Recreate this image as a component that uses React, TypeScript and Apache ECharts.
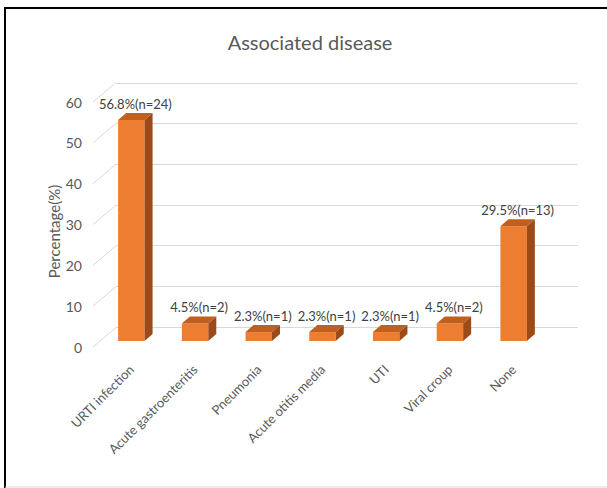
import React, { useEffect, useRef } from "react";
import * as echarts from "echarts";

const categories = [
  "URTI infection",
  "Acute gastroenteritis",
  "Pneumonia",
  "Acute otitis media",
  "UTI",
  "Viral croup",
  "None",
];
const percentages = [56.8, 4.5, 2.3, 2.3, 2.3, 4.5, 29.5];
const counts = [24, 2, 1, 1, 1, 2, 13];
const yTicks = [0, 10, 20, 30, 40, 50, 60];

const FONT = "Lato, 'Open Sans', sans-serif";
const FRONT = "#ED7D31";
const TOP = "#C0601F";
const SIDE = "#9B4A18";
const GRID = "#D9D9D9";
const TEXT = "#595959";

export default function App() {
  const ref = useRef<HTMLDivElement>(null);
  useEffect(() => {
    if (!ref.current) return;
    const chart = echarts.init(ref.current, null, { renderer: "svg" });
    const labels = percentages.map((p, i) => `${p}%(n=${counts[i]})`);
    const option: any = {
      animation: false,
      backgroundColor: "#ffffff",
      textStyle: { fontFamily: FONT },
      graphic: [
        {
          type: "text",
          x: 310,
          y: 42,
          style: {
            text: "Associated disease",
            align: "center",
            verticalAlign: "middle",
            fill: TEXT,
            font: `20px ${FONT}`,
          },
        },
        { type: "line", shape: { x1: 4, y1: 8, x2: 607, y2: 8 }, style: { stroke: "#000", lineWidth: 2 } },
        { type: "line", shape: { x1: 5, y1: 7, x2: 5, y2: 488 }, style: { stroke: "#000", lineWidth: 2 } },
        { type: "line", shape: { x1: 5, y1: 487, x2: 607, y2: 487 }, style: { stroke: "#D9D9D9", lineWidth: 1 } },
      ],
      grid: [
        { left: 116, top: 83, width: 462, height: 244 },
        { left: 93, top: 102, width: 23, height: 245 },
        { left: 99.5, top: 107.5, width: 446, height: 233.5 },
      ],
      xAxis: [
        { gridIndex: 0, type: "category", data: categories, show: false },
        { gridIndex: 1, type: "value", min: 0, max: 1, show: false },
        {
          gridIndex: 2,
          type: "category",
          data: categories,
          axisLine: { show: false },
          axisTick: { show: false },
          axisLabel: {
            interval: 0,
            rotate: 45,
            margin: 26,
            color: TEXT,
            fontSize: 13,
            fontFamily: FONT,
          },
        },
      ],
      yAxis: [
        {
          gridIndex: 0,
          type: "value",
          min: 0,
          max: 60,
          interval: 10,
          axisLabel: { show: false },
          axisLine: { show: false },
          axisTick: { show: false },
          splitLine: { lineStyle: { color: GRID, width: 1 } },
        },
        {
          gridIndex: 1,
          type: "value",
          min: 0,
          max: 60,
          interval: 10,
          axisLine: { show: false },
          axisTick: { show: false },
          splitLine: { show: false },
          axisLabel: { color: TEXT, fontSize: 14, margin: 11, fontFamily: FONT },
          name: "Percentage(%)",
          nameLocation: "middle",
          nameGap: 30,
          nameTextStyle: { color: TEXT, fontSize: 15, fontFamily: FONT, padding: [0, 14, 0, 0] },
        },
        { gridIndex: 2, type: "value", min: 0, max: 60, show: false },
      ],
      series: [
        {
          type: "custom",
          xAxisIndex: 1,
          yAxisIndex: 1,
          data: yTicks.map((v) => [0, v]),
          encode: { x: 0, y: 1 },
          silent: true,
          renderItem: (params: any, api: any) => {
            const p = api.coord([0, api.value(1)]);
            return {
              type: "line",
              shape: { x1: p[0], y1: p[1], x2: p[0] + 23, y2: p[1] - 19.5 },
              style: { stroke: GRID, lineWidth: 1 },
            };
          },
        },
        {
          type: "custom",
          xAxisIndex: 2,
          yAxisIndex: 2,
          data: percentages.map((v, i) => [i, v]),
          encode: { x: 0, y: 1 },
          renderItem: (params: any, api: any) => {
            const idx = api.value(0);
            const v = api.value(1);
            const top = api.coord([idx, v]);
            const bot = api.coord([idx, 0]);
            const band = api.size([1, 0])[0];
            const w = band * 0.415;
            const x0 = top[0] - w / 2;
            const x1 = top[0] + w / 2;
            const dx = 8;
            const dy = -7;
            return {
              type: "group",
              children: [
                {
                  type: "polygon",
                  shape: { points: [[x0, top[1]], [x1, top[1]], [x1, bot[1]], [x0, bot[1]]] },
                  style: { fill: FRONT },
                },
                {
                  type: "polygon",
                  shape: { points: [[x0, top[1]], [x0 + dx, top[1] + dy], [x1 + dx, top[1] + dy], [x1, top[1]]] },
                  style: { fill: TOP },
                },
                {
                  type: "polygon",
                  shape: { points: [[x1, top[1]], [x1 + dx, top[1] + dy], [x1 + dx, bot[1] + dy], [x1, bot[1]]] },
                  style: { fill: SIDE },
                },
                {
                  type: "text",
                  x: top[0] + dx / 2,
                  y: top[1] - 16,
                  style: {
                    text: labels[params.dataIndex],
                    align: "center",
                    verticalAlign: "middle",
                    fill: "#404040",
                    font: `13px ${FONT}`,
                  },
                },
              ],
            };
          },
        },
      ],
    };
    chart.setOption(option);
    return () => chart.dispose();
  }, []);
  return (
    <div
      ref={ref}
      style={{ position: "fixed", left: 0, top: 0, width: 607, height: 488 }}
    />
  );
}
